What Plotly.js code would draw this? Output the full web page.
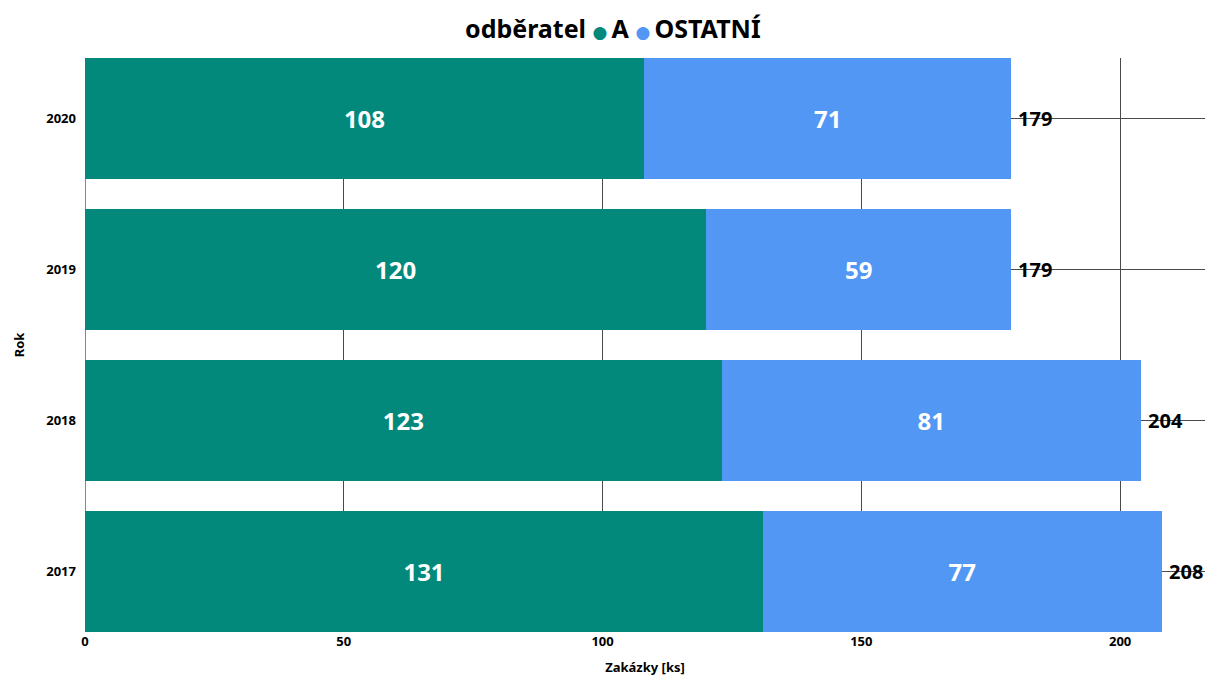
<!DOCTYPE html>
<html>
<head>
<meta charset="utf-8">
<script src="https://cdn.plot.ly/plotly-3.0.1.min.js"></script>
<style>
  html, body { margin: 0; padding: 0; background: #fff; }
  #chart { width: 1205px; height: 677px; }
</style>
</head>
<body>
<div id="chart"></div>
<script>
// Orders per year, split by customer
const years = ['2017', '2018', '2019', '2020'];
const customerA = [131, 123, 120, 108];
const others = [77, 81, 59, 71];
const totals = [208, 204, 179, 179];
const seriesNames = ['A', 'OSTATNÍ'];
const legendTitle = 'odběratel';
const xTicks = [0, 50, 100, 150, 200];

const colA = '#03897C';
const colOther = '#5197F3';
const fontFam = '"Noto Sans", "Open Sans", sans-serif';

const barTrace = (vals, name, color) => ({
  type: 'bar',
  orientation: 'h',
  x: vals,
  y: years,
  name: name,
  marker: { color: color, line: { width: 0 } },
  text: vals.map(String),
  texttemplate: '%{text}',
  textposition: 'inside',
  insidetextanchor: 'middle',
  textangle: 0,
  textfont: { color: '#ffffff', size: 24, family: fontFam, weight: 'bold' },
  showlegend: false,
  hoverinfo: 'x+y+name'
});

const data = [
  barTrace(customerA, seriesNames[0], colA),
  barTrace(others, seriesNames[1], colOther)
];

// Totals next to each bar (y given as category index)
const annotations = years.map((y, i) => ({
  x: totals[i],
  y: i,
  xref: 'x',
  yref: 'y',
  text: String(totals[i]),
  showarrow: false,
  xanchor: 'left',
  yanchor: 'middle',
  xshift: 5,
  font: { color: '#000000', size: 20, family: fontFam, weight: 'bold' }
}));

// Compact legend line with round markers
const colors = [colA, colOther];
const thin = '\u2009';
const legendHtml = '<b>' + legendTitle + '</b> ' + seriesNames.map((n, i) =>
  '<span style="color:' + colors[i] + ';font-family:\'DejaVu Sans\';font-size:17px">●</span>' + thin + '<b>' + n + '</b>'
).join(' ');
annotations.push({
  x: 0.471,
  y: 1.052,
  xref: 'paper',
  yref: 'paper',
  yanchor: 'middle',
  xanchor: 'center',
  showarrow: false,
  text: legendHtml,
  font: { color: '#000000', size: 25, family: fontFam }
});

const layout = {
  width: 1205,
  height: 677,
  paper_bgcolor: '#ffffff',
  plot_bgcolor: '#ffffff',
  barmode: 'stack',
  bargap: 0.2,
  margin: { l: 85, r: 0, t: 58, b: 45 },
  font: { family: fontFam, color: '#000000' },
  showlegend: false,
  xaxis: {
    range: [0, 216.4],
    tickvals: xTicks,
    ticktext: xTicks.map(String),
    showgrid: true,
    gridcolor: '#4a4a4a',
    gridwidth: 1,
    zeroline: true,
    zerolinecolor: '#888888',
    zerolinewidth: 1,
    showline: false,
    ticks: '',
    tickfont: { size: 13, weight: 'bold', color: '#000' },
    title: { text: 'Zakázky [ks]', font: { size: 13, weight: 'bold', color: '#000' }, standoff: 13 },
    fixedrange: true
  },
  yaxis: {
    type: 'category',
    categoryorder: 'array',
    categoryarray: years,
    range: [-0.4, 3.4],
    showgrid: true,
    gridcolor: '#4a4a4a',
    gridwidth: 1,
    showline: false,
    ticks: '',
    ticklabelstandoff: 8,
    tickfont: { size: 13, weight: 'bold', color: '#000' },
    title: { text: 'Rok', font: { size: 13, weight: 'bold', color: '#000' }, standoff: 18 },
    fixedrange: true
  },
  annotations: annotations
};

Plotly.newPlot('chart', data, layout, { displayModeBar: false, staticPlot: true });
</script>
</body>
</html>
